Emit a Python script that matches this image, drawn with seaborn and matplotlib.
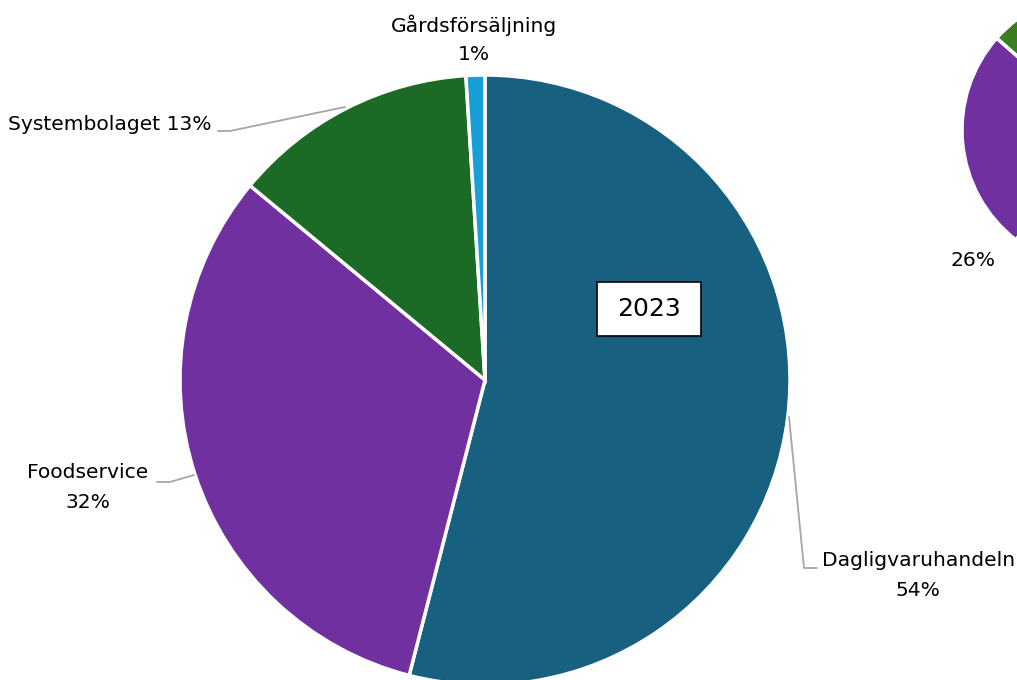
import matplotlib
matplotlib.use("Agg")
import matplotlib.pyplot as plt
from matplotlib.patches import Rectangle
import seaborn as sns

# data
categories = ["Dagligvaruhandeln", "Foodservice", "Systembolaget", "Gårdsförsäljning"]
share_2023 = [54, 32, 13, 1]
# second pie (mostly outside the picture, only Foodservice label visible)
share_other = [60.5, 26, 12.5, 1]

colors = ["#17607f", "#7030a0", "#1b6b26", "#17a0d8"]
colors_other = ["#17607f", "#7030a0", "#3b7d23", "#17a0d8"]

sns.set_theme(style="white")
plt.rcParams['font.family'] = ['DejaVu Sans']

W, H = 1017, 680
fig = plt.figure(figsize=(W / 100, H / 100), dpi=100)
ax = fig.add_axes([0, 0, 1, 1])

wedge_kw = dict(edgecolor="white", linewidth=2.5)
ax.pie(share_2023, colors=colors, startangle=90, counterclock=False,
       center=(485, H - 380), radius=305, wedgeprops=wedge_kw)
ax.pie(share_other, colors=colors_other, startangle=90, counterclock=False,
       center=(1101, H - 130), radius=139, wedgeprops=wedge_kw)

ax.set_xlim(0, W)
ax.set_ylim(0, H)
ax.set_aspect("equal")
ax.axis("off")

lead = dict(color="#a6a6a6", lw=1.3)
fs = 14.6
tc = "black"

# labels for the 2023 pie, placed like the excel data labels
ax.text(474, H - 25, categories[3], ha="center", va="center", fontsize=fs, color=tc)
ax.text(474, H - 55, f"{share_2023[3]}%", ha="center", va="center", fontsize=fs, color=tc)

ax.text(8, H - 125, f"{categories[2]} {share_2023[2]}%", ha="left", va="center", fontsize=fs, color=tc)
ax.plot([218, 230, 345], [H - 131, H - 131, H - 107], **lead)

ax.text(88, H - 473, categories[1], ha="center", va="center", fontsize=fs, color=tc)
ax.text(88, H - 503, f"{share_2023[1]}%", ha="center", va="center", fontsize=fs, color=tc)
ax.plot([157, 170, 194], [H - 482, H - 482, H - 475], **lead)

ax.text(822, H - 560, categories[0], ha="left", va="center", fontsize=fs, color=tc)
ax.text(918, H - 591, f"{share_2023[0]}%", ha="center", va="center", fontsize=fs, color=tc)
ax.plot([817, 804, 789], [H - 568, H - 568, H - 417], **lead)

# label of the second pie
ax.text(973, H - 260, f"{share_other[1]}%", ha="center", va="center", fontsize=fs, color=tc)

# year box
ax.add_patch(Rectangle((597, H - 336), 104, 54, facecolor="white", edgecolor="black", lw=1.2, zorder=3))
ax.text(649, H - 309, "2023", ha="center", va="center", fontsize=18, color=tc, zorder=4)

fig.savefig("out.png", dpi=100)
